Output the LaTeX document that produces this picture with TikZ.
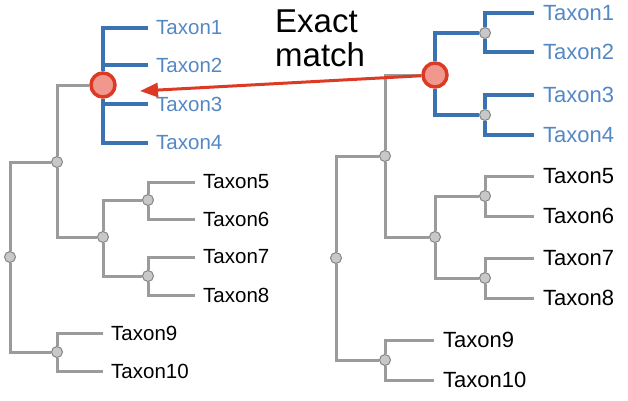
\documentclass[tikz,border=0pt]{standalone}
\usepackage{fontspec}
\setmainfont{Liberation Sans}
\usetikzlibrary{arrows.meta,backgrounds}
\definecolor{cladeblue}{RGB}{58,114,178}
\definecolor{labelblue}{RGB}{84,136,196}
\definecolor{branchgray}{RGB}{155,155,155}
\definecolor{nodegray}{RGB}{200,200,200}
\definecolor{matchred}{RGB}{221,58,38}
\definecolor{matchfill}{RGB}{240,152,142}

\begin{document}
\begin{tikzpicture}[x=1pt, y=-1pt,
  every node/.style={font=\fontsize{20.5}{24}\selectfont},
  branch/.style={draw=branchgray, line width=3pt},
  clade/.style={draw=cladeblue, line width=4pt},
  inner/.style={circle, draw=branchgray!85!black, fill=nodegray, line width=1pt,
    minimum size=11pt, inner sep=0pt},
  hit/.style={circle, draw=matchred, fill=matchfill, line width=3.5pt,
    minimum size=24pt, inner sep=0pt},
  leaf/.style={anchor=west, inner xsep=8pt, inner ysep=0pt},
  bigleaf/.style={leaf, inner xsep=9pt, font=\fontsize{22}{26}\selectfont},
  arr/.style={-{Triangle[length=18pt, width=14pt]}, draw=matchred, line width=3pt}
]
\useasboundingbox (0,0) rectangle (628,400);

% left tree
\node[hit] (redL) at (103,85) {};
\node[inner] (l18) at (57,162) {};
\node[inner] (rootL) at (10,257) {};
\node[inner] (l58) at (103,237) {};
\node[inner] (l56) at (148,200) {};
\node[inner] (l78) at (148,276) {};
\node[inner] (l910) at (57,352) {};

\node[leaf, text=labelblue] (L1) at (148,28) {Taxon1};
\node[leaf, text=labelblue] (L2) at (148,65) {Taxon2};
\node[leaf, text=labelblue] (L3) at (148,104) {Taxon3};
\node[leaf, text=labelblue] (L4) at (148,143) {Taxon4};
\node[leaf] (L5) at (195,182) {Taxon5};
\node[leaf] (L6) at (195,219) {Taxon6};
\node[leaf] (L7) at (195,257) {Taxon7};
\node[leaf] (L8) at (195,295) {Taxon8};
\node[leaf] (L9) at (103,333) {Taxon9};
\node[leaf] (L10) at (103,371) {Taxon10};

% right tree
\node[hit] (redR) at (435,75) {};
\node[inner] (r12) at (485,33) {};
\node[inner] (r34) at (485,115) {};
\node[inner] (r18) at (385,156) {};
\node[inner] (rootR) at (336,258) {};
\node[inner] (r58) at (435,237) {};
\node[inner] (r56) at (485,196) {};
\node[inner] (r78) at (485,278) {};
\node[inner] (r910) at (385,360) {};

\node[bigleaf, text=labelblue] (R1) at (534,13) {Taxon1};
\node[bigleaf, text=labelblue] (R2) at (534,52) {Taxon2};
\node[bigleaf, text=labelblue] (R3) at (534,95) {Taxon3};
\node[bigleaf, text=labelblue] (R4) at (534,135) {Taxon4};
\node[bigleaf] (R5) at (534,176) {Taxon5};
\node[bigleaf] (R6) at (534,216) {Taxon6};
\node[bigleaf] (R7) at (534,258) {Taxon7};
\node[bigleaf] (R8) at (534,298) {Taxon8};
\node[bigleaf] (R9) at (434,340) {Taxon9};
\node[bigleaf] (R10) at (434,380) {Taxon10};

\begin{scope}[on background layer]
  % left branches
  \path[clade] (redL) |- (L1.west) (redL) |- (L2.west)
    (redL) |- (L3.west) (redL) |- (L4.west);
  \path[branch] (l18) |- (redL) (l18) |- (l58)
    (rootL) |- (l18) (rootL) |- (l910)
    (l58) |- (l56) (l58) |- (l78)
    (l56) |- (L5.west) (l56) |- (L6.west)
    (l78) |- (L7.west) (l78) |- (L8.west)
    (l910) |- (L9.west) (l910) |- (L10.west);
  % right branches
  \path[clade] (redR) |- (r12) (redR) |- (r34)
    (r12) |- (R1.west) (r12) |- (R2.west)
    (r34) |- (R3.west) (r34) |- (R4.west);
  \path[branch] (r18) |- (redR) (r18) |- (r58)
    (rootR) |- (r18) (rootR) |- (r910)
    (r58) |- (r56) (r58) |- (r78)
    (r56) |- (R5.west) (r56) |- (R6.west)
    (r78) |- (R7.west) (r78) |- (R8.west)
    (r910) |- (R9.west) (r910) |- (R10.west);
\end{scope}

% match arrow
\coordinate (tip) at (140,91);
\draw[arr] (redR) -- (tip);
\node[align=left, anchor=west, inner sep=0pt,
  font=\fontsize{33}{34}\selectfont] (exact) at (275,38) {Exact\\match};
\end{tikzpicture}
\end{document}
